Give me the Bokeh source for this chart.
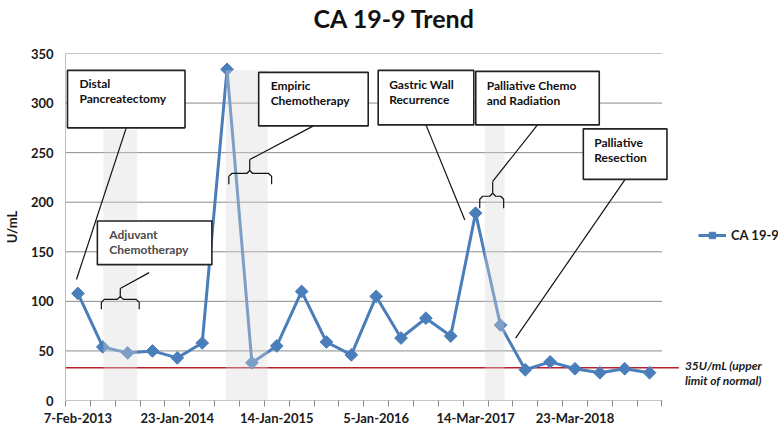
import numpy as np
from bokeh.plotting import figure
from bokeh.models import Range1d, FixedTicker, Label, Legend, LegendItem, Title
from bokeh.core.properties import value
from bokeh.embed import file_html
from bokeh.resources import INLINE

# ---------------- data ----------------
sample_no = list(range(1, 25))
ca199 = [108, 54, 48, 50, 43, 58, 334, 38, 55, 110, 59, 46,
         105, 63, 83, 65, 189, 76, 31, 39, 32, 28, 32, 28]
date_label_at = [1, 5, 9, 13, 17, 21]
date_labels = ["7-Feb-2013", "23-Jan-2014", "14-Jan-2015",
               "5-Jan-2016", "14-Mar-2017", "23-Mar-2018"]
y_ticks = [0, 50, 100, 150, 200, 250, 300, 350]
uln_value = 33
uln_text = ["35U/mL (upper", "limit of normal)"]
events = [["Distal", "Pancreatectomy"],
          ["Adjuvant", "Chemotherapy"],
          ["Empiric", "Chemotherapy"],
          ["Gastric Wall", "Recurrence"],
          ["Palliative Chemo", "and Radiation"],
          ["Palliative", "Resection"]]
chart_title = "CA 19-9 Trend"

# ---------------- layout helpers (canvas pixels -> data) ----------------
W, H = 780, 428
FL, FR, FT, FB = 62, 778, 51, 401     # frame edges in canvas px
PLOT_R = 661                          # end of category area
PX = (PLOT_R - FL) / 24.0


def X(px):
    return 0.5 + (px - FL) / PX


def Y(py):
    return (FB - py) * 350.0 / (FB - FT)


FONT = "Lato"
BLUE = "#4A7EBB"
GRID = "#8C8C8C"

p = figure(width=W, height=H, output_backend="svg", toolbar_location=None,
           x_range=Range1d(0.5, X(FR)), y_range=Range1d(0, 350),
           min_border_left=FL, min_border_right=W - FR,
           min_border_top=FT, min_border_bottom=H - FB)
p.outline_line_color = None
p.xgrid.visible = False
p.ygrid.visible = False
p.background_fill_color = "white"
p.border_fill_color = "white"
p.title.text = ""

# title: a thin spacer panel next to the frame, the real title above it
p.add_layout(Title(text=" ", text_font_size="2px", standoff=17,
                   text_color="white"), "above")
p.add_layout(Title(text=chart_title, align="left", offset=248,
                   text_font=FONT, text_font_style="bold",
                   text_font_size="25px", text_color="#111111",
                   standoff=0), "above")

# y axis
ya = p.yaxis[0]
ya.ticker = FixedTicker(ticks=y_ticks)
ya.major_tick_out = 0
ya.major_tick_in = 0
ya.minor_tick_out = 0
ya.minor_tick_in = 0
ya.axis_line_color = "#BFBFBF"
ya.major_label_standoff = 12
ya.major_label_text_font = FONT
ya.major_label_text_font_style = "bold"
ya.major_label_text_font_size = "13px"
ya.major_label_text_color = "#1A1A1A"
ya.axis_label = "U/mL"
ya.axis_label_text_font = FONT
ya.axis_label_text_font_style = "bold"
ya.axis_label_text_font_size = "13px"
ya.axis_label_text_color = "#1A1A1A"
ya.axis_label_standoff = 8

# x axis
xa = p.xaxis[0]
xa.ticker = FixedTicker(ticks=date_label_at,
                        minor_ticks=[i + 0.5 for i in range(0, 25)])
xa.major_label_overrides = {k: v for k, v in zip(date_label_at, date_labels)}
xa.major_tick_out = 0
xa.major_tick_in = 0
xa.minor_tick_out = 6
xa.minor_tick_in = 0
xa.minor_tick_line_color = GRID
xa.axis_line_color = None
xa.major_label_standoff = 3
xa.major_label_text_font = FONT
xa.major_label_text_font_style = "bold"
xa.major_label_text_font_size = "13px"
xa.major_label_text_color = "#1A1A1A"

# gridlines + x axis line (only across category area)
p.segment(x0=X(FL), x1=X(PLOT_R), y0=y_ticks[1:], y1=y_ticks[1:],
          line_color=GRID, line_width=1)
p.segment(x0=X(FL), x1=X(PLOT_R), y0=0, y1=0, line_color=GRID, line_width=1)

# upper limit of normal line
p.segment(x0=X(FL), x1=X(678), y0=uln_value, y1=uln_value,
          line_color="#B8202A", line_width=1.6)
for txt, py in zip(uln_text, [366, 381]):
    p.add_layout(Label(x=X(684), y=Y(py), text=txt, text_font=FONT,
                       text_font_style="bold italic", text_font_size="12px",
                       text_baseline="middle", text_color="#1A1A1A"))

# series
line_r = p.line(sample_no, ca199, line_color=BLUE, line_width=3)
pts_r = p.scatter(sample_no, ca199, marker="square", size=9, angle=np.pi / 4,
                  fill_color=BLUE, line_color=BLUE)

# shaded treatment bands (drawn over the line, semi transparent)
bands = [(100, 134, 128), (223, 265, 68), (483, 503, 123)]
p.quad(left=[X(b[0]) for b in bands], right=[X(b[1]) for b in bands],
       top=[Y(b[2]) for b in bands], bottom=0,
       fill_color="#D9D9D9", fill_alpha=0.36, line_color=None)


# brackets
def brace(L, R, tip, ybar, yend, ytip):
    pts = [(L, yend), (L, ybar + 3), (L + 3, ybar), (tip - 3, ybar),
           (tip, ybar - 3), (tip, ytip), (tip, ybar - 3), (tip + 3, ybar),
           (R - 3, ybar), (R, ybar + 3), (R, yend)]
    return [X(a) for a, b in pts], [Y(b) for a, b in pts]


braces = [brace(98, 136, 117, 299, 309, 288),
          brace(226, 269, 247, 172, 183, 158),
          brace(478, 502, 491, 195, 207, 180)]
p.multi_line(xs=[b[0] for b in braces], ys=[b[1] for b in braces],
             line_color="#111111", line_width=1.2)

leaders = [((123, 126), (73, 279)), ((117, 288), (146, 272)),
           ((247, 158), (311, 124)), ((424, 123), (463, 219)),
           ((491, 180), (536, 123)), ((624, 178), (514, 338))]
p.segment(x0=[X(a[0]) for a, b in leaders], y0=[Y(a[1]) for a, b in leaders],
          x1=[X(b[0]) for a, b in leaders], y1=[Y(b[1]) for a, b in leaders],
          line_color="#111111", line_width=1.2)

# callout boxes
boxes = [(64, 182, 68, 126), (94, 209, 220, 264), (256, 366, 70, 124),
         (376, 472, 68, 123), (474, 598, 69, 123), (582, 666, 127, 178)]
p.quad(left=[X(b[0]) for b in boxes], right=[X(b[1]) for b in boxes],
       top=[Y(b[2]) for b in boxes], bottom=[Y(b[3]) for b in boxes],
       fill_color="white", line_color="#222222", line_width=1.6)

text_pos = [(76, 81), (106, 234), (268, 83), (387, 82), (485, 83), (593, 141)]
tx, ty, tt, tc = [], [], [], []
for (lx, ly), lines in zip(text_pos, events):
    for k, line in enumerate(lines):
        tx.append(X(lx))
        ty.append(Y(ly + 15 * k))
        tt.append(line)
        tc.append("#4A4A4A" if lines[0] == "Adjuvant" else "#111111")
p.text(x=tx, y=ty, text=tt, text_color=tc, text_font=value(FONT),
       text_font_style="bold", text_font_size="12px", text_baseline="middle")

# legend
legend = Legend(items=[LegendItem(label="CA 19-9", renderers=[line_r, pts_r])],
                location=(695 - FL, FB - 244), padding=0, margin=0,
                border_line_color=None, background_fill_alpha=0,
                glyph_width=28, glyph_height=16, label_height=16,
                label_standoff=5, label_text_font=FONT,
                label_text_font_style="bold", label_text_font_size="13px",
                label_text_color="#1A1A1A")
p.add_layout(legend)

open("out.html", "w").write(file_html(p, INLINE))
